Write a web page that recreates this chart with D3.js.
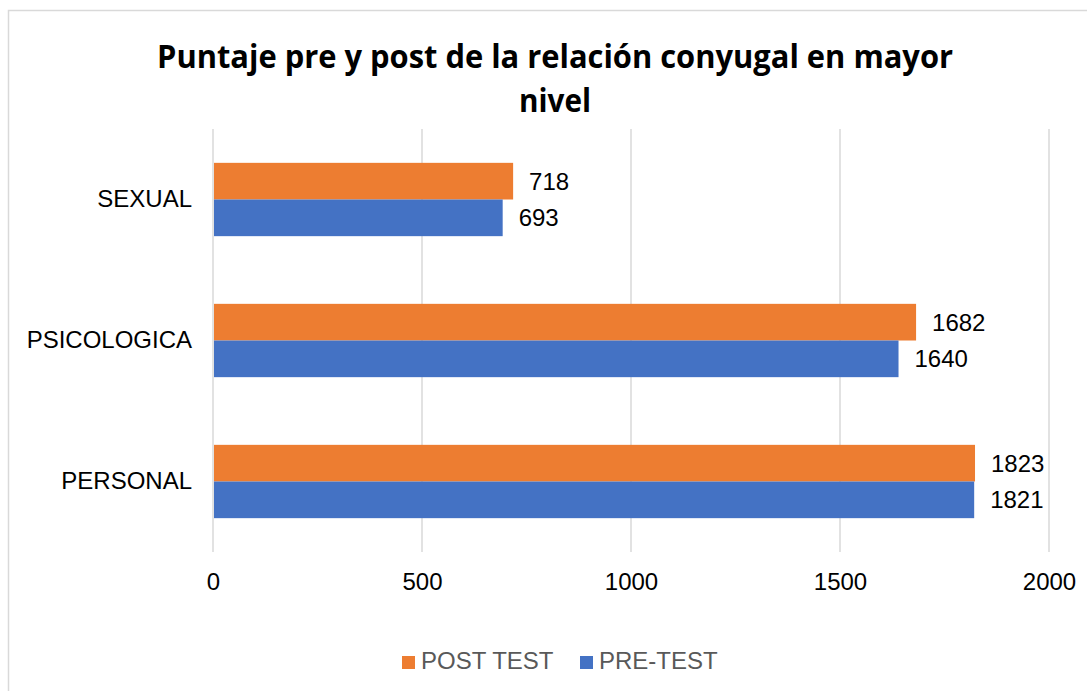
<!DOCTYPE html>
<html>
<head>
<meta charset="utf-8">
<script src="https://cdn.jsdelivr.net/npm/d3@7"></script>
<style>
  body { margin: 0; background: #fff; }
  svg { display: block; }
</style>
</head>
<body>
<div id="chart"></div>
<script>
// données
const categories = ["SEXUAL", "PSICOLOGICA", "PERSONAL"];
const series = ["POST TEST", "PRE-TEST"];
const postTest = [718, 1682, 1823];
const preTest = [693, 1640, 1821];
const ticks = [0, 500, 1000, 1500, 2000];
const colors = ["#ED7D31", "#4472C4"];

const w = 1087;
const h = 691;
const police = "'Liberation Sans', Arial, sans-serif";

const svg = d3.select("#chart")
    .append("svg")
    .attr("width", w)
    .attr("height", h);

// cadre
svg.append("rect")
    .attr("x", 8.5)
    .attr("y", 10.5)
    .attr("width", 1200)
    .attr("height", 800)
    .attr("fill", "#fff")
    .attr("stroke", "#d9d9d9")
    .attr("stroke-width", 1.5);

// titre
svg.append("text")
    .attr("x", 555)
    .attr("y", 68)
    .attr("text-anchor", "middle")
    .attr("font-family", "'Open Sans', sans-serif")
    .attr("font-weight", "bold")
    .attr("font-size", "33px")
    .attr("textLength", 796)
    .attr("lengthAdjust", "spacingAndGlyphs")
    .attr("fill", "#000")
    .text("Puntaje pre y post de la relación conyugal en mayor");

svg.append("text")
    .attr("x", 555)
    .attr("y", 112)
    .attr("text-anchor", "middle")
    .attr("font-family", "'Open Sans', sans-serif")
    .attr("font-weight", "bold")
    .attr("font-size", "33px")
    .attr("textLength", 72)
    .attr("lengthAdjust", "spacingAndGlyphs")
    .attr("fill", "#000")
    .text("nivel");

// échelles
const xScale = d3.scaleLinear()
    .domain([0, 2000])
    .range([213, 1049]);

const yScale = d3.scaleBand()
    .domain(categories)
    .range([129, 552])
    .paddingInner(0.48)
    .paddingOuter(0.24);

const subScale = d3.scaleBand()
    .domain(series)
    .range([0, yScale.bandwidth()]);

// grille
svg.selectAll("line.grid")
    .data(ticks)
    .enter()
    .append("line")
    .attr("class", "grid")
    .attr("x1", d => xScale(d))
    .attr("x2", d => xScale(d))
    .attr("y1", 129)
    .attr("y2", 552)
    .attr("stroke", "#d9d9d9")
    .attr("stroke-width", 1.5);

// axe x (étiquettes)
const axeX = d3.axisBottom(xScale)
    .tickValues(ticks)
    .tickFormat(d3.format("d"))
    .tickSize(0)
    .tickPadding(0);

const gx = svg.append("g")
    .attr("transform", "translate(0,573)")
    .call(axeX);
gx.select(".domain").remove();
gx.selectAll("text")
    .attr("font-family", police)
    .attr("font-size", "24px")
    .attr("fill", "#000");

// axe y (catégories)
const axeY = d3.axisLeft(yScale)
    .tickSize(0)
    .tickPadding(21);

const gy = svg.append("g")
    .attr("transform", "translate(213,0)")
    .call(axeY);
gy.select(".domain").remove();
gy.selectAll("text")
    .attr("font-family", police)
    .attr("font-size", "24px")
    .attr("fill", "#000");

// barres
const rows = categories.map((c, i) => ({
    cat: c,
    values: [
        { s: series[0], v: postTest[i] },
        { s: series[1], v: preTest[i] }
    ]
}));

const groups = svg.selectAll("g.group")
    .data(rows)
    .enter()
    .append("g")
    .attr("class", "group")
    .attr("transform", d => "translate(0," + yScale(d.cat) + ")");

groups.selectAll("rect")
    .data(d => d.values)
    .enter()
    .append("rect")
    .attr("x", xScale(0) + 1)
    .attr("y", d => subScale(d.s))
    .attr("width", d => xScale(d.v) - xScale(0) - 1)
    .attr("height", subScale.bandwidth())
    .attr("fill", (d, i) => colors[i]);

// étiquettes de valeurs
groups.selectAll("text")
    .data(d => d.values)
    .enter()
    .append("text")
    .attr("x", d => xScale(d.v) + 16)
    .attr("y", d => subScale(d.s) + subScale.bandwidth() / 2)
    .attr("dy", "0.36em")
    .attr("font-family", police)
    .attr("font-size", "24px")
    .attr("fill", "#000")
    .text(d => d.v);

// légende
const legendX = [402, 580];
const legend = svg.selectAll("g.legend")
    .data(series)
    .enter()
    .append("g")
    .attr("class", "legend")
    .attr("transform", (d, i) => "translate(" + legendX[i] + ",656)");

legend.append("rect")
    .attr("width", 13)
    .attr("height", 13)
    .attr("fill", (d, i) => colors[i]);

legend.append("text")
    .attr("x", 19)
    .attr("y", 13)
    .attr("font-family", police)
    .attr("font-size", "24px")
    .attr("fill", "#595959")
    .text(d => d);
</script>
</body>
</html>
